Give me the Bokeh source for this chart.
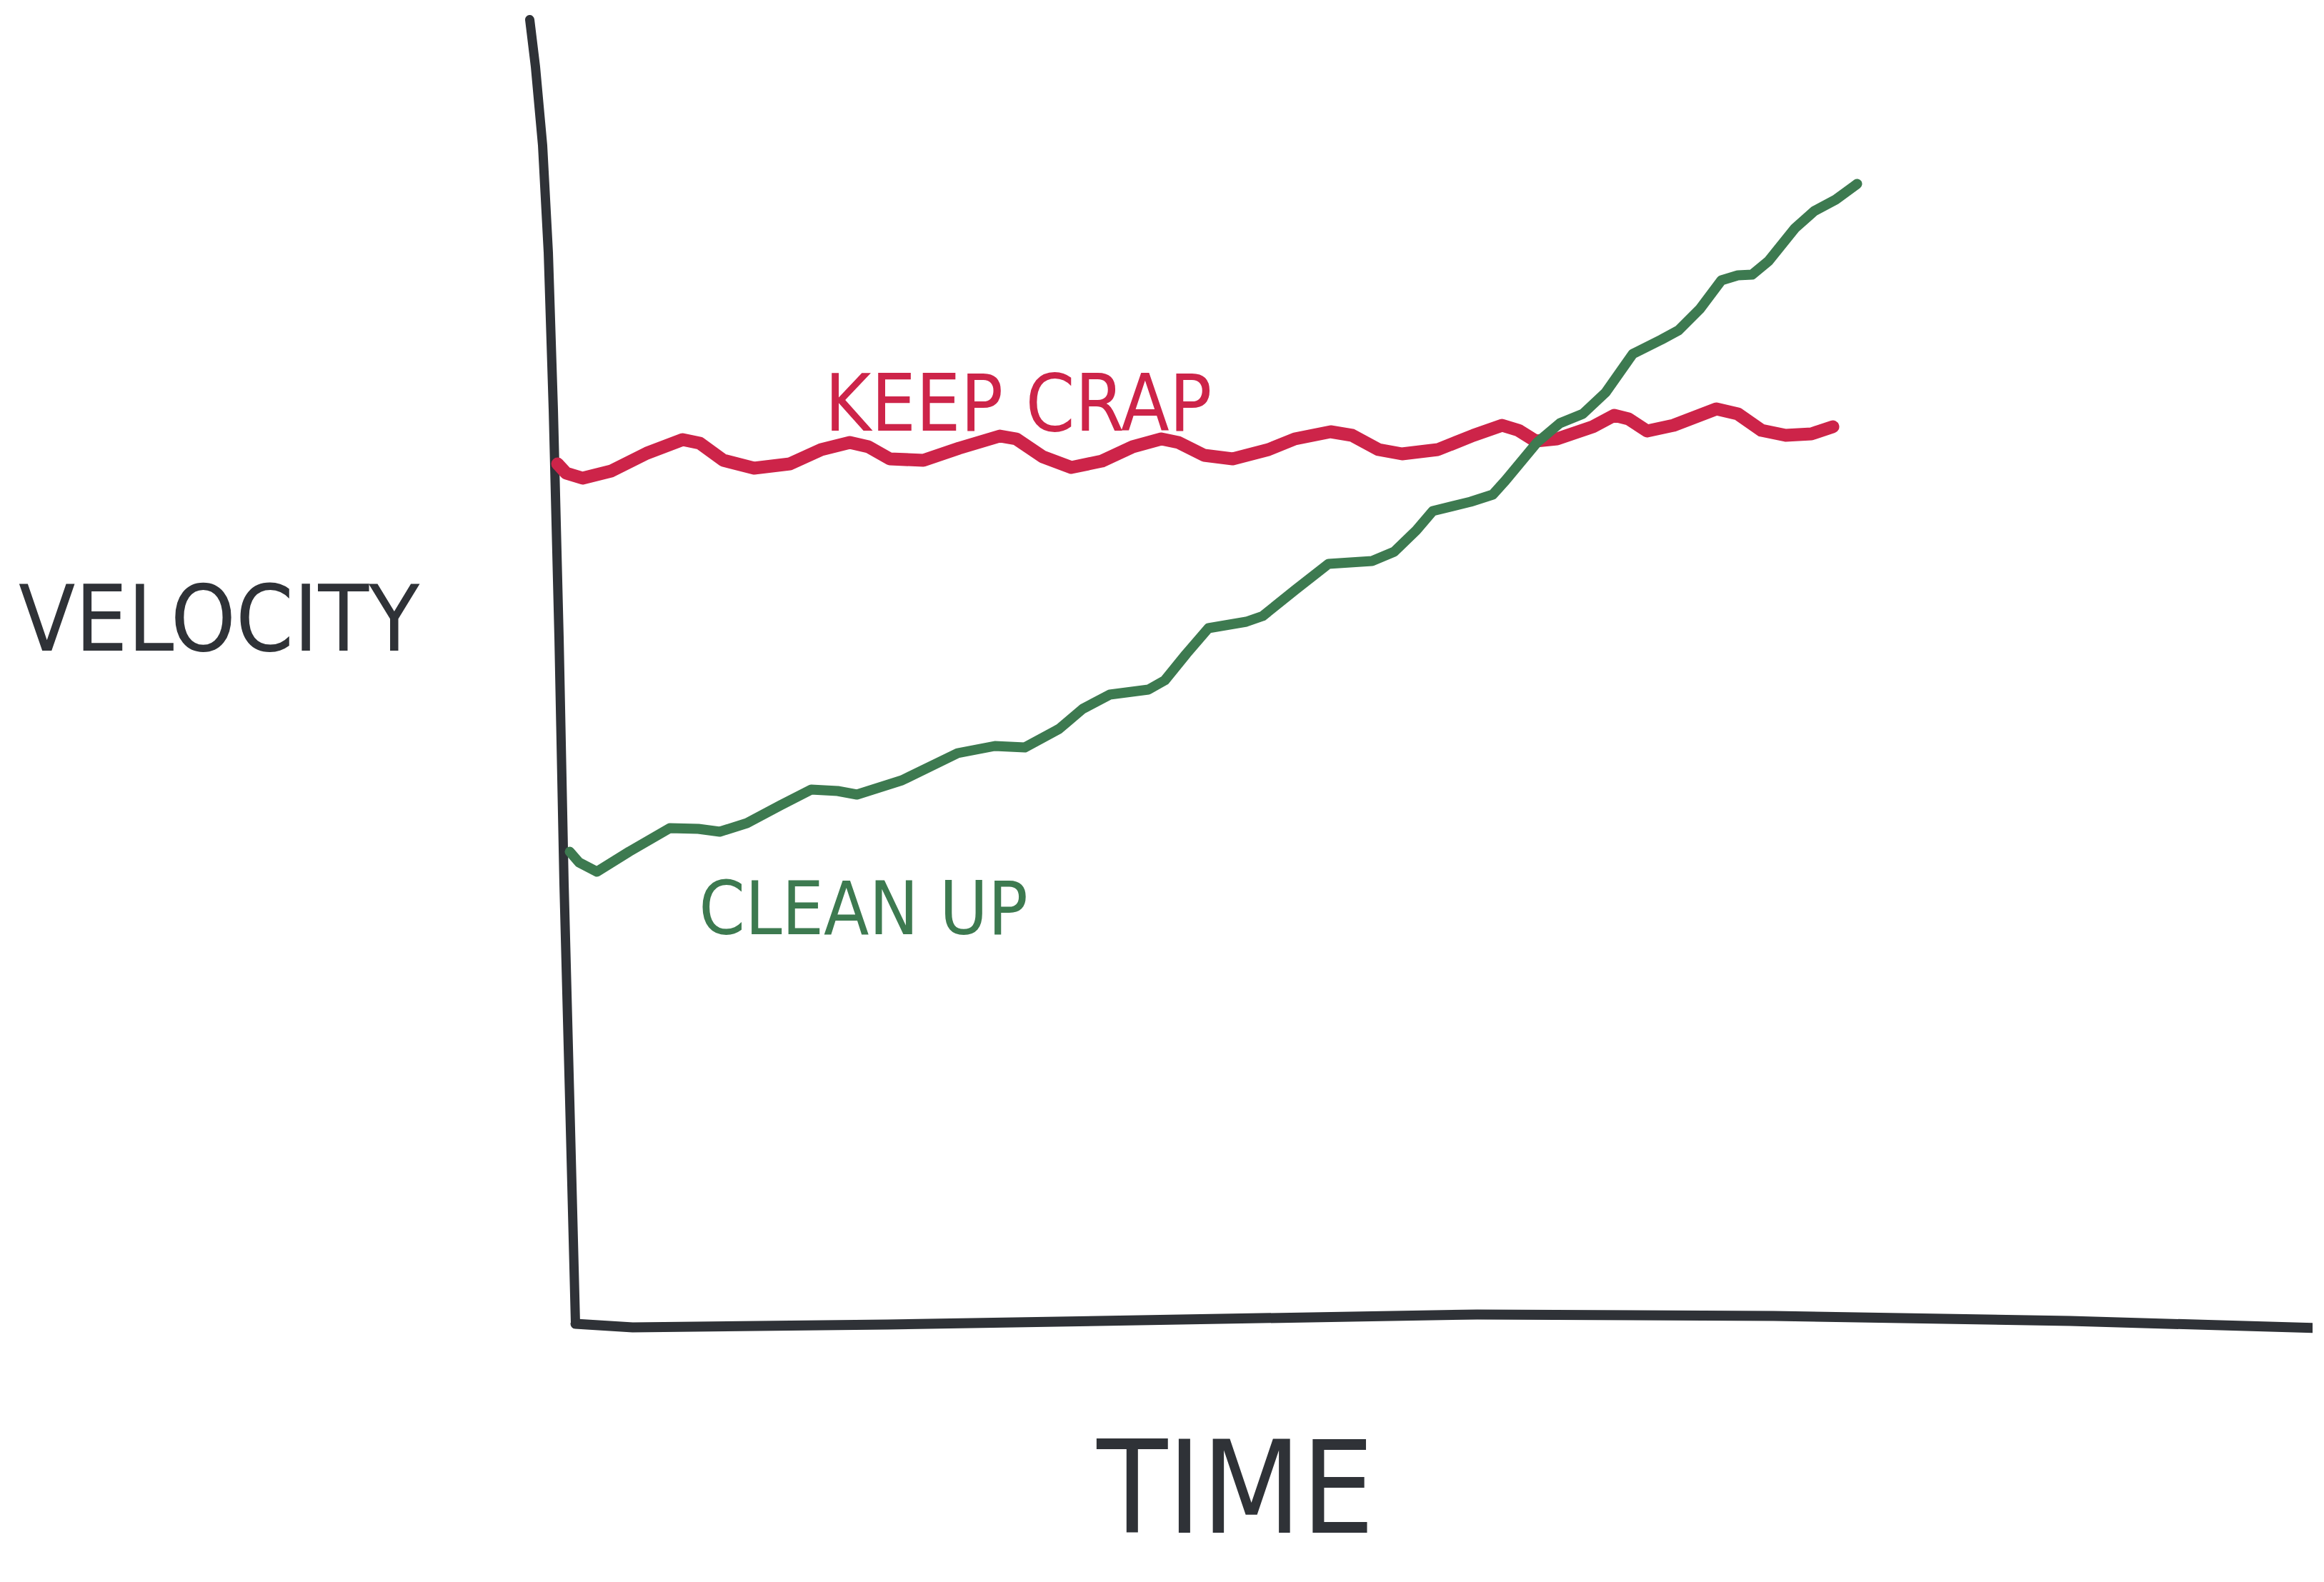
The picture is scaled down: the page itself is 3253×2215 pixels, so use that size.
from bokeh.plotting import figure
from bokeh.models import Range1d
from bokeh.embed import file_html
from bokeh.resources import INLINE
from bokeh.core.properties import value

# ---- data (time, velocity) ----
keep_crap_time = [-2.5, -1.3, 1.0, 5.0, 10.0, 15.0, 17.4, 20.7, 25.0, 30.0, 34.4, 38.4, 41.0, 44.0,
                  48.7, 53.7, 59.4, 61.7, 65.4, 69.4, 73.7, 78.0, 82.0, 84.4, 88.0, 92.0, 97.0,
                  100.7, 105.7, 108.7, 112.4, 115.7, 120.7, 125.7, 129.7, 132.0, 134.4, 137.4,
                  142.4, 145.4, 147.4, 150.0, 153.7, 159.7, 162.7, 166.0, 169.4, 173.0, 176.0]
keep_crap_velocity = [120.4, 119.1, 118.4, 119.4, 121.9, 123.8, 123.3, 120.9, 119.8, 120.4, 122.4,
                      123.4, 122.8, 121.1, 120.9, 122.6, 124.3, 123.9, 121.4, 119.9, 120.8, 122.8,
                      123.9, 123.4, 121.6, 121.1, 122.4, 123.9, 124.9, 124.4, 122.4, 121.8, 122.4,
                      124.4, 125.8, 125.1, 123.6, 123.9, 125.6, 127.2, 126.7, 125.0, 125.8, 128.1,
                      127.4, 125.1, 124.4, 124.6, 125.6]

clean_up_time = [-0.8, 0.5, 3.0, 7.5, 13.2, 17.2, 20.2, 24.0, 28.7, 33.0, 36.7, 39.4, 45.7, 53.5,
                 58.7, 62.9, 67.7, 71.0, 74.8, 80.2, 82.5, 85.5, 88.6, 93.9, 96.2, 100.8, 105.4,
                 111.5, 114.6, 117.7, 120.0, 125.3, 128.4, 130.2, 134.6, 137.8, 141.0, 144.2,
                 148.0, 152.0, 154.4, 157.4, 160.4, 162.7, 164.7, 167.0, 170.7, 173.4, 176.4, 179.4]
clean_up_velocity = [66.1, 64.6, 63.3, 66.1, 69.4, 69.3, 68.9, 70.1, 72.6, 74.8, 74.6, 74.1, 76.1,
                     79.9, 80.9, 80.7, 83.3, 86.1, 88.1, 88.8, 90.1, 93.8, 97.4, 98.3, 99.1, 102.8,
                     106.4, 106.8, 108.1, 111.1, 113.8, 115.1, 116.1, 118.1, 123.4, 126.1, 127.4,
                     130.4, 135.8, 137.8, 139.1, 142.1, 146.1, 146.8, 146.9, 148.8, 153.4, 155.8,
                     157.4, 159.6]

# hand-drawn axes
y_axis_time = [-6.4, -5.6, -4.6, -3.8, -3.1, -2.3, -1.6, -0.8, 0.0]
y_axis_velocity = [182.6, 176.0, 165.0, 150.0, 128.0, 96.1, 61.6, 31.1, 0.1]
x_axis_time = [0.0, 8.0, 43.7, 84.7, 126.2, 167.7, 209.2, 244.0]
x_axis_velocity = [0.0, -0.5, -0.1, 0.6, 1.3, 1.1, 0.4, -0.6]

series_labels = ["KEEP CRAP", "CLEAN UP"]
axis_labels = ["VELOCITY", "TIME"]

RED = "#CD2449"
GREEN = "#3D7A50"
INK = "#2F3237"
FONT = value("DejaVu Sans Condensed")

p = figure(width=3237, height=2199, output_backend="svg", toolbar_location=None,
           x_axis_type=None, y_axis_type=None, min_border=0,
           x_range=Range1d(-80.5, 243.2), y_range=Range1d(-34.6, 185.3))
p.grid.visible = False
p.outline_line_color = None
p.background_fill_color = "white"
p.border_fill_color = "white"

p.line(y_axis_time, y_axis_velocity, line_color=INK, line_width=13, line_cap="round", line_join="round")
p.line(x_axis_time, x_axis_velocity, line_color=INK, line_width=14, line_cap="round", line_join="round")

p.line(keep_crap_time, keep_crap_velocity, line_color=RED, line_width=18,
       line_cap="round", line_join="round")
p.line(clean_up_time, clean_up_velocity, line_color=GREEN, line_width=14,
       line_cap="round", line_join="round")

p.text(x=[62.0], y=[128.9], text=[series_labels[0]], text_color=RED, text_font=FONT,
       text_font_size="110px", text_align="center", text_baseline="alphabetic")
p.text(x=[40.3], y=[58.2], text=[series_labels[1]], text_color=GREEN, text_font=FONT,
       text_font_size="103px", text_align="center", text_baseline="alphabetic")
p.text(x=[-49.9], y=[98.8], text=[axis_labels[0]], text_color=INK, text_font=FONT,
       text_font_size="129px", text_align="center", text_baseline="alphabetic")
p.text(x=[92.4], y=[-23.0], text=[axis_labels[1]], text_color=INK, text_font=FONT,
       text_font_size="180px", text_align="center", text_baseline="alphabetic")

open("out.html", "w").write(file_html(p, INLINE))
